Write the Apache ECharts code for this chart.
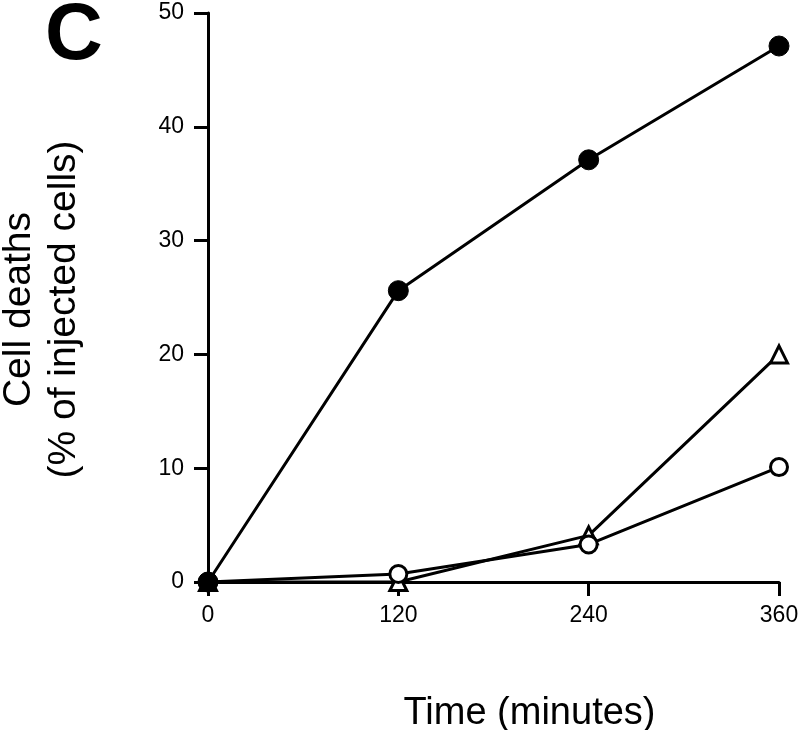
<!DOCTYPE html>
<html><head><meta charset="utf-8">
<script src="https://cdn.jsdelivr.net/npm/echarts@6/dist/echarts.min.js"></script>
<style>html,body{margin:0;padding:0;background:#fff}#c{width:800px;height:730px}</style>
</head><body><div id="c"></div>
<script>
const times = [0, 120, 240, 360];
const xTicks = [0, 120, 240, 360];
const filledCircles = [0, 25.6, 37.1, 47.1];
const openCircles = [0, 0.7, 3.3, 10.1];
const openTriangles = [0, 0, 4.1, 20.0];

const font = 'Liberation Sans';
const chart = echarts.init(document.getElementById('c'));
function pts(v){ return times.map((t,i)=>[t,v[i]]); }
const lineStyle = {color:'#000', width:3};
chart.setOption({
  animation:false,
  backgroundColor:'#fff',
  title:{text:'C', left:40, top:-8, textStyle:{fontFamily:'Liberation Sans', fontWeight:'bold', fontSize:80, color:'#000'}},
  grid:{left:208, right:21, top:13, bottom:148, containLabel:false, outerBoundsMode:'none'},
  xAxis:{type:'value', min:0, max:360, interval:120,
    name:'Time (minutes)', nameLocation:'middle', nameGap:113,
    nameTextStyle:{fontFamily:font, fontSize:38, color:'#000', padding:[0,0,0,72]},
    axisLine:{lineStyle:{color:'#000', width:3}},
    axisTick:{show:true, length:14, lineStyle:{color:'#000', width:3}},
    axisLabel:{fontFamily:font, fontSize:23, color:'#000', margin:22},
    splitLine:{show:false}},
  yAxis:{type:'value', min:0, max:50, interval:10,
    name:'Cell deaths\n(% of injected cells)', nameLocation:'middle', nameGap:121,
    nameTextStyle:{fontFamily:font, fontSize:39, color:'#000', lineHeight:45, padding:[0,24,0,0]},
    axisLine:{show:true, lineStyle:{color:'#000', width:3}},
    axisTick:{show:true, length:14, lineStyle:{color:'#000', width:3}},
    axisLabel:{fontFamily:font, fontSize:23, color:'#000', margin:24},
    splitLine:{show:false}},
  series:[
    {type:'line', data:pts(openTriangles), symbol:'triangle', symbolSize:17,
     lineStyle, itemStyle:{color:'#fff', borderColor:'#000', borderWidth:3}, z:2},
    {type:'line', data:pts(openCircles), symbol:'circle', symbolSize:17,
     lineStyle, itemStyle:{color:'#fff', borderColor:'#000', borderWidth:3}, z:3},
    {type:'line', data:pts(filledCircles), symbol:'circle', symbolSize:20,
     lineStyle, itemStyle:{color:'#000', borderColor:'#000', borderWidth:1}, z:4}
  ]
});
</script></body></html>
